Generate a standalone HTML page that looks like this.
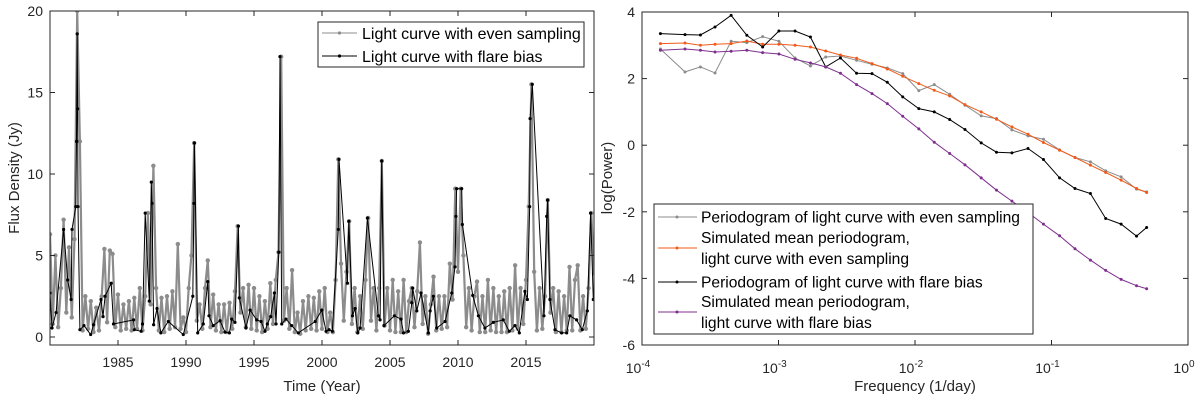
<!DOCTYPE html>
<html><head><meta charset="utf-8"><style>
html,body{margin:0;padding:0;background:#fff;}
svg{display:block;font-family:"Liberation Sans",Arial,sans-serif;}
</style></head><body>
<svg id="fig" width="1200" height="400" viewBox="0 0 1200 400"></svg>
<script>
// ---------- Left chart data ----------
const evenStart = 1980, evenStep = 0.2;
const evenFlux = [6.3,0.8,5.0,0.6,3.0,7.2,1.5,5.5,1.2,6.0,20,12,0.4,2.5,0.5,2.2,0.3,1.8,0.4,2.5,
5.4,0.9,5.3,5.1,0.6,2.6,0.4,2.0,0.5,2.2,0.4,2.4,0.5,3.0,0.4,2.5,7.6,2.0,10.5,3.0,
0.4,2.4,0.3,2.5,0.5,2.8,0.6,5.7,0.5,1.2,0.3,3.0,5.0,11.9,1.0,2.0,0.5,3.0,4.7,0.6,
2.6,0.4,2.0,0.3,2.0,0.3,2.1,0.5,2.8,6.8,1.5,3.0,0.6,3.2,0.5,3.0,0.4,2.5,0.3,2.2,
0.5,3.3,0.8,3.5,5.2,17.2,1.0,3.0,0.5,4.1,0.3,1.5,0.2,2.2,0.4,2.5,0.5,2.4,0.4,2.8,
0.5,3.0,0.3,1.5,0.3,3.5,10.9,4.5,1.0,4.0,7.1,0.8,3.0,0.3,2.5,0.5,3.5,7.3,1.0,3.0,
0.4,3.0,10.8,0.7,3.0,0.4,3.5,0.3,2.8,0.3,3.5,0.3,2.2,3.0,0.6,2.8,5.8,0.8,2.5,0.2,
2.0,3.7,0.4,2.5,0.5,2.5,0.6,4.5,2.3,9.1,4.0,9.1,5.0,0.6,3.0,0.4,2.5,3.4,0.3,2.5,
0.3,3.5,0.4,3.0,0.3,2.5,0.3,2.8,0.3,3.0,0.4,4.4,0.5,3.0,0.8,3.5,8.0,15.5,4.0,0.4,
3.0,0.5,2.5,8.4,1.5,3.0,0.3,2.8,0.3,2.5,0.4,4.3,0.4,3.5,4.4,0.4,2.5,0.5,3.0,7.6,3.9];
const flareYears = [1980.0,1980.15,1980.45,1981.0,1981.3,1981.55,1981.62,1981.9,1981.95,1982.0,1982.03,1982.06,1982.2,1982.5,1982.99,1983.2,1983.75,1983.9,1984.05,1984.5,1984.67,1986.15,1986.2,1986.7,1986.8,1987.0,1987.3,1987.45,1987.5,1987.62,1987.87,1988.15,1988.7,1989.8,1990.5,1990.58,1990.62,1990.86,1991.27,1991.6,1991.69,1992.0,1992.5,1992.87,1993.19,1993.36,1993.6,1993.85,1993.92,1994.41,1994.71,1995.2,1995.52,1995.81,1995.98,1996.23,1996.5,1996.62,1996.82,1996.91,1997.04,1997.35,1997.77,1998.26,1999.5,1999.98,2000.3,2000.52,2000.76,2001.2,2001.25,2001.87,2001.97,2002.24,2002.43,2002.63,2002.8,2003.34,2004.15,2004.27,2004.39,2004.56,2005.32,2005.81,2005.99,2006.35,2006.6,2006.67,2006.97,2007.28,2007.82,2007.95,2008.19,2008.44,2009.05,2009.54,2009.78,2009.85,2009.9,2010.27,2010.32,2011.08,2011.5,2011.98,2012.6,2013.33,2013.77,2014.19,2014.51,2014.92,2015.1,2015.27,2015.3,2015.46,2016.32,2016.52,2016.59,2016.76,2017.13,2017.62,2017.99,2018.23,2018.72,2019.14,2019.51,2019.75,2019.95];
const flareFlux = [2.7,0.55,1.5,6.6,3.5,2.3,6.6,8.0,12,18.6,14,8,0.45,0.7,0.15,0.75,2.3,1.25,2.5,3.3,0.8,1.05,0.45,0.35,0.8,7.6,2.2,9.5,8.2,0.75,1.75,0.25,0.95,0.15,2.5,8.2,11.9,0.25,0.8,3.4,1.3,0.7,1.0,0.3,0.25,1.1,0.9,6.8,2.4,0.55,1.65,1.05,0.95,0.35,0.8,1.25,2.7,0.8,5.2,17.2,0.8,1.1,0.7,0.25,0.95,1.65,0.35,0.45,0.35,6.6,10.9,3.3,7.1,1.3,1.75,0.25,0.55,7.3,1.3,1.05,10.8,0.7,1.3,1.1,0.25,0.35,2.1,3.0,1.6,2.7,0.25,1.6,2.5,0.55,0.95,2.7,4.3,7.4,9.1,9.1,6.9,2.55,1.3,0.55,0.9,1.05,0.35,0.7,0.25,2.8,2.3,8.0,13.4,15.5,1.3,7.4,8.4,2.3,0.45,0.25,0.25,1.3,1.05,0.45,1.6,7.6,2.3];
const leftXTicks = [1985,1990,1995,2000,2005,2010,2015];
const leftYTicks = [0,5,10,15,20];

// ---------- Right chart data ----------
const logFreq = [-3.865,-3.685,-3.572,-3.465,-3.347,-3.232,-3.116,-2.997,-2.879,-2.766,-2.654,-2.546,-2.428,-2.315,-2.203,-2.090,-1.972,-1.859,-1.746,-1.634,-1.515,-1.403,-1.290,-1.172,-1.059,-0.941,-0.828,-0.715,-0.603,-0.490,-0.377,-0.303];
const pgEven = [2.89,2.2,2.35,2.17,3.12,3.08,3.26,3.12,2.62,2.38,2.65,2.68,2.55,2.43,2.32,2.15,1.64,1.82,1.53,1.2,0.88,0.8,0.46,0.28,0.18,-0.14,-0.37,-0.5,-0.77,-0.95,-1.32,-1.4];
const simEven = [3.05,3.07,3.0,3.03,3.05,3.13,3.03,3.03,3.0,2.95,2.83,2.71,2.61,2.45,2.29,2.07,1.85,1.65,1.48,1.22,1.0,0.78,0.55,0.33,0.08,-0.15,-0.37,-0.6,-0.82,-1.05,-1.3,-1.42];
const pgFlare = [3.35,3.32,3.31,3.55,3.9,3.3,2.95,3.43,3.43,3.25,2.35,2.62,2.16,2.15,1.89,1.45,1.1,1.0,0.77,0.47,0.07,-0.21,-0.23,-0.1,-0.43,-0.98,-1.3,-1.45,-2.2,-2.37,-2.73,-2.47];
const simFlare = [2.85,2.89,2.85,2.8,2.82,2.85,2.78,2.74,2.58,2.47,2.35,2.16,1.82,1.55,1.25,0.87,0.49,0.09,-0.25,-0.59,-0.98,-1.35,-1.68,-2.02,-2.37,-2.72,-3.11,-3.45,-3.76,-4.03,-4.22,-4.31];
const rightXTicks = [-4,-3,-2,-1,0];
const rightYTicks = [-6,-4,-2,0,2,4];

const NS = 'http://www.w3.org/2000/svg';
const svg = document.getElementById('fig');
function mk(tag, attrs, parent){ const e=document.createElementNS(NS,tag); for(const k in attrs) e.setAttribute(k,attrs[k]); (parent||svg).appendChild(e); return e; }

// ---------- LEFT ----------
const L = {x0:50, x1:594, y0:11, y1:345};
const lx = v => L.x0 + (v-1980)/(2020-1980)*(L.x1-L.x0);
const ly = v => 337 - v*16.3;
const clipL = mk('clipPath',{id:'clipL'}); mk('rect',{x:L.x0,y:L.y0,width:L.x1-L.x0,height:L.y1-L.y0},clipL);

const gEven = mk('g',{'clip-path':'url(#clipL)'});


let d='';
evenFlux.forEach((v,i)=>{ d += (i?'L':'M')+lx(evenStart+i*evenStep).toFixed(1)+','+ly(v).toFixed(1); });
mk('path',{d:d,fill:'none',stroke:'#8c8c8c','stroke-width':2.2,'stroke-linejoin':'round'},gEven);
evenFlux.forEach((v,i)=>{ mk('circle',{cx:lx(evenStart+i*evenStep),cy:ly(v),r:2.2,fill:'#8c8c8c'},gEven); });

const gFl = mk('g',{'clip-path':'url(#clipL)'});


d='';
flareFlux.forEach((v,i)=>{ d += (i?'L':'M')+lx(flareYears[i]).toFixed(1)+','+ly(v).toFixed(1); });
mk('path',{d:d,fill:'none',stroke:'#000','stroke-width':1},gFl);
flareFlux.forEach((v,i)=>{ mk('circle',{cx:lx(flareYears[i]),cy:ly(v),r:1.6,fill:'#000'},gFl); });

const axL = mk('rect',{x:L.x0,y:L.y0,width:L.x1-L.x0,height:L.y1-L.y0,fill:'none',stroke:'#262626','stroke-width':1});


leftXTicks.forEach(t=>{
  const x=lx(t);
  mk('line',{x1:x,x2:x,y1:L.y1,y2:L.y1-5,stroke:'#262626'});
  mk('line',{x1:x,x2:x,y1:L.y0,y2:L.y0+5,stroke:'#262626'});
  const tx=mk('text',{x:x,y:367,'text-anchor':'middle','font-size':14,fill:'#262626'}); tx.textContent=t;
  
  
});
leftYTicks.forEach(t=>{
  const y=ly(t);
  mk('line',{x1:L.x0,x2:L.x0+5,y1:y,y2:y,stroke:'#262626'});
  mk('line',{x1:L.x1,x2:L.x1-5,y1:y,y2:y,stroke:'#262626'});
  const tx=mk('text',{x:L.x0-7,y:y+5,'text-anchor':'end','font-size':14,fill:'#262626'}); tx.textContent=t;
  
  
});
let t=mk('text',{x:322,y:391,'text-anchor':'middle','font-size':15,fill:'#262626'}); t.textContent='Time (Year)';
 
t=mk('text',{x:0,y:0,'text-anchor':'middle','font-size':15,fill:'#262626',transform:'translate(19,178) rotate(-90)'}); t.textContent='Flux Density (Jy)';
 

const legL = mk('g',{});


mk('rect',{x:318,y:22,width:266,height:45,fill:'#fff',stroke:'#262626'},legL);
[['Light curve with even sampling','#8c8c8c',39],['Light curve with flare bias','#000',62]].forEach(r=>{
  mk('line',{x1:322,x2:357,y1:r[2]-6,y2:r[2]-6,stroke:r[1]},legL);
  mk('circle',{cx:339.5,cy:r[2]-6,r:1.6,fill:r[1]},legL);
  const e=mk('text',{x:362,y:r[2],'font-size':16,fill:'#000'},legL); e.textContent=r[0];
   
});

// ---------- RIGHT ----------
const R = {x0:642, x1:1188, y0:12, y1:345};
const rx = v => R.x0 + (v-(-4))/4*(R.x1-R.x0);
const ry = v => R.y0 + (4-v)/10*(R.y1-R.y0);
const axR = mk('rect',{x:R.x0,y:R.y0,width:R.x1-R.x0,height:R.y1-R.y0,fill:'none',stroke:'#262626','stroke-width':1});


rightXTicks.forEach(v=>{
  const x=rx(v);
  mk('line',{x1:x,x2:x,y1:R.y1,y2:R.y1-5,stroke:'#262626'});
  mk('line',{x1:x,x2:x,y1:R.y0,y2:R.y0+5,stroke:'#262626'});
  const tx=mk('text',{x:x-4,y:373,'text-anchor':'middle','font-size':14,fill:'#262626'});
  
  
  tx.appendChild(document.createTextNode('10'));
  const s=document.createElementNS(NS,'tspan'); s.setAttribute('dy','-6'); s.setAttribute('font-size','10'); s.textContent=String(v); tx.appendChild(s);
});
rightYTicks.forEach(v=>{
  const y=ry(v);
  mk('line',{x1:R.x0,x2:R.x0+5,y1:y,y2:y,stroke:'#262626'});
  mk('line',{x1:R.x1,x2:R.x1-5,y1:y,y2:y,stroke:'#262626'});
  const tx=mk('text',{x:R.x0-7,y:y+5,'text-anchor':'end','font-size':14,fill:'#262626'}); tx.textContent=v;
  
  
});
t=mk('text',{x:915,y:391,'text-anchor':'middle','font-size':15,fill:'#262626'}); t.textContent='Frequency (1/day)';
 
t=mk('text',{x:0,y:0,'text-anchor':'middle','font-size':15,fill:'#262626',transform:'translate(612,178) rotate(-90)'}); t.textContent='log(Power)';
 

function series(vals,color,name){
  const g=mk('g',{});
  
  
  let p='';
  vals.forEach((v,i)=>{ p+=(i?'L':'M')+rx(logFreq[i]).toFixed(1)+','+ry(v).toFixed(1); });
  mk('path',{d:p,fill:'none',stroke:color,'stroke-width':1},g);
  vals.forEach((v,i)=>{ mk('circle',{cx:rx(logFreq[i]),cy:ry(v),r:1.5,fill:color},g); });
}
series(pgEven,'#8c8c8c','periodogram-even-series');
series(simEven,'#f05a1a','sim-mean-even-series');
series(pgFlare,'#000','periodogram-flare-series');
series(simFlare,'#7e2f8e','sim-mean-flare-series');

const legR = mk('g',{});


mk('rect',{x:654,y:204,width:379,height:130,fill:'#fff',stroke:'#262626'},legR);
[[217,'#8c8c8c',['Periodogram of light curve with even sampling']],
 [248,'#f05a1a',['Simulated mean periodogram,','light curve with even sampling']],
 [282,'#000',['Periodogram of light curve with flare bias']],
 [312,'#7e2f8e',['Simulated mean periodogram,','light curve with flare bias']]].forEach(r=>{
  mk('line',{x1:658,x2:697,y1:r[0],y2:r[0],stroke:r[1]},legR);
  mk('circle',{cx:677,cy:r[0],r:1.5,fill:r[1]},legR);
  const n=r[2].length;
  r[2].forEach((s,j)=>{
    const y = r[0] + 5.5 + (j-(n-1)/2)*21;
    const e=mk('text',{x:701,y:y,'font-size':15.6,fill:'#000'},legR); e.textContent=s;
     
  });
});
</script>
</body></html>
